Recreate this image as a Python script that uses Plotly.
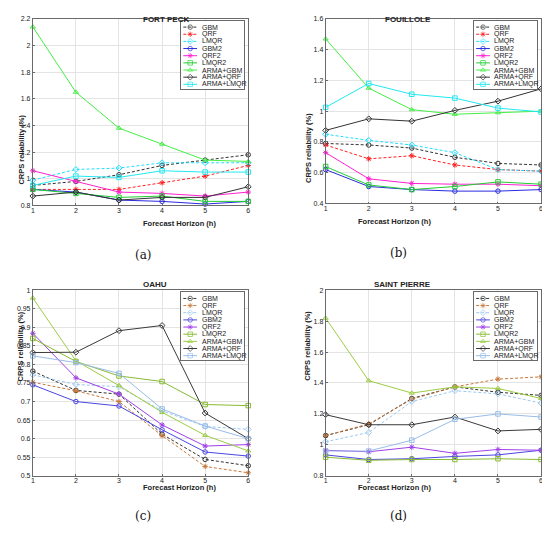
import plotly.graph_objects as go

# the page body adds an 8px margin, so the figure is a bit smaller and
# every reference pixel position is shifted by that offset
OFF = 8
W, H = 550 - OFF, 534 - OFF

hours = [1, 2, 3, 4, 5, 6]
x_tick_labels = ["1", "2", "3", "4", "5", "6"]
model_names = ["GBM", "QRF", "LMQR", "GBM2", "QRF2", "LMQR2",
               "ARMA+GBM", "ARMA+QRF", "ARMA+LMQR"]

# CRPS reliability (%) per model (rows follow model_names)
fort_peck = [
    [0.95, 0.98, 1.03, 1.10, 1.14, 1.18],
    [0.92, 0.92, 0.92, 0.97, 1.02, 1.10],
    [0.99, 1.07, 1.08, 1.12, 1.12, 1.12],
    [0.92, 0.90, 0.84, 0.83, 0.81, 0.83],
    [1.06, 0.98, 0.90, 0.89, 0.87, 0.90],
    [0.92, 0.89, 0.86, 0.87, 0.83, 0.83],
    [2.14, 1.65, 1.38, 1.26, 1.14, 1.13],
    [0.87, 0.90, 0.84, 0.86, 0.86, 0.94],
    [0.95, 1.02, 1.01, 1.06, 1.05, 1.05],
]
fouillole = [
    [0.79, 0.78, 0.76, 0.70, 0.66, 0.65],
    [0.78, 0.69, 0.71, 0.65, 0.62, 0.61],
    [0.85, 0.81, 0.78, 0.73, 0.62, 0.61],
    [0.62, 0.51, 0.49, 0.48, 0.48, 0.49],
    [0.73, 0.56, 0.53, 0.525, 0.525, 0.515],
    [0.64, 0.52, 0.49, 0.51, 0.54, 0.525],
    [1.47, 1.15, 1.01, 0.98, 0.99, 1.00],
    [0.875, 0.95, 0.935, 1.005, 1.065, 1.145],
    [1.025, 1.18, 1.11, 1.085, 1.02, 0.995],
]
oahu = [
    [0.782, 0.73, 0.72, 0.612, 0.544, 0.527],
    [0.752, 0.729, 0.70, 0.608, 0.525, 0.508],
    [0.772, 0.746, 0.74, 0.675, 0.633, 0.625],
    [0.745, 0.70, 0.688, 0.624, 0.564, 0.553],
    [0.884, 0.764, 0.72, 0.637, 0.58, 0.584],
    [0.87, 0.808, 0.769, 0.754, 0.692, 0.689],
    [0.979, 0.81, 0.743, 0.671, 0.609, 0.567],
    [0.832, 0.833, 0.891, 0.905, 0.669, 0.60],
    [0.823, 0.805, 0.776, 0.68, 0.634, 0.60],
]
saint_pierre = [
    [1.06, 1.13, 1.30, 1.375, 1.34, 1.32],
    [1.06, 1.135, 1.295, 1.375, 1.425, 1.44],
    [1.02, 1.08, 1.28, 1.35, 1.33, 1.27],
    [0.935, 0.905, 0.91, 0.925, 0.935, 0.965],
    [0.965, 0.955, 0.985, 0.945, 0.97, 0.965],
    [0.92, 0.90, 0.905, 0.905, 0.91, 0.905],
    [1.82, 1.415, 1.335, 1.375, 1.365, 1.30],
    [1.195, 1.13, 1.13, 1.18, 1.09, 1.10],
    [0.96, 0.96, 1.03, 1.165, 1.20, 1.18],
]

yticks_a = [0.8, 1.0, 1.2, 1.4, 1.6, 1.8, 2.0, 2.2]
ylabels_a = ["0.8", "1", "1.2", "1.4", "1.6", "1.8", "2", "2.2"]
yticks_b = [0.4, 0.6, 0.8, 1.0, 1.2, 1.4, 1.6]
ylabels_b = ["0.4", "0.6", "0.8", "1", "1.2", "1.4", "1.6"]
yticks_c = [0.5, 0.55, 0.6, 0.65, 0.7, 0.75, 0.8, 0.85, 0.9, 0.95, 1.0]
ylabels_c = ["0.5", "0.55", "0.6", "0.65", "0.7", "0.75", "0.8", "0.85", "0.9", "0.95", "1"]
yticks_d = [0.8, 1.0, 1.2, 1.4, 1.6, 1.8, 2.0]
ylabels_d = ["0.8", "1", "1.2", "1.4", "1.6", "1.8", "2"]

# styles
dashes = ["3px,2px"] * 3 + ["solid"] * 6
symbols = ["circle-open", "asterisk-open", "diamond-open", "circle-open", "asterisk-open",
           "square-open", "triangle-up-open", "diamond-open", "square-open"]
colors_top = ["#333333", "#ff2020", "#22ddff", "#2a2ae0", "#ff20d0", "#22cc33",
              "#44ee44", "#333333", "#22e8f0"]
colors_bot = ["#333333", "#c8773a", "#9cc8ee", "#4b45e0", "#a040e8", "#88bb33",
              "#9ccc44", "#3a3a3a", "#98bce8"]

FONT = "Liberation Sans, Arial, sans-serif"
SERIF = "Palatino Linotype, DejaVu Serif, Liberation Serif, serif"


def px_x(p):
    return (p - OFF) / W


def px_y(p):
    return 1 - (p - OFF) / H


panels = [
    dict(title="FORT PECK", data=fort_peck, ticks=yticks_a, labels=ylabels_a,
         box=(31, 248, 15, 204), colors=colors_top, tag="(a)"),
    dict(title="FOUILLOLE", data=fouillole, ticks=yticks_b, labels=ylabels_b,
         box=(326, 543, 15, 202), colors=colors_top, tag="(b)"),
    dict(title="OAHU", data=oahu, ticks=yticks_c, labels=ylabels_c,
         box=(31, 248, 290, 478), colors=colors_bot, tag="(c)"),
    dict(title="SAINT PIERRE", data=saint_pierre, ticks=yticks_d, labels=ylabels_d,
         box=(326, 543, 290, 478), colors=colors_bot, tag="(d)"),
]

fig = go.Figure()
layout = {}
annotations = []
tick_font = dict(family=FONT, size=7, color="#222222")

for i, p in enumerate(panels):
    n = i + 1
    x0, x1, y0, y1 = p["box"]
    xa, ya = f"xaxis{n}", f"yaxis{n}"
    layout[xa] = dict(domain=[px_x(x0), px_x(x1)], anchor=f"y{n}", range=[1, 6],
                      tickvals=hours, ticktext=x_tick_labels, showgrid=True,
                      gridcolor="#e4e4e4", gridwidth=0.6, showline=True, mirror=True,
                      linecolor="#6a6a6a", linewidth=0.8, ticks="inside", ticklen=2,
                      tickcolor="#6a6a6a", zeroline=False, tickfont=tick_font,
                      ticklabelstandoff=-2)
    layout[ya] = dict(domain=[px_y(y1), px_y(y0)], anchor=f"x{n}",
                      range=[p["ticks"][0], p["ticks"][-1]],
                      tickvals=p["ticks"], ticktext=p["labels"], showgrid=True,
                      gridcolor="#e4e4e4", gridwidth=0.6, showline=True, mirror=True,
                      linecolor="#6a6a6a", linewidth=0.8, ticks="inside", ticklen=2,
                      tickcolor="#6a6a6a", zeroline=False, tickfont=tick_font)

    for k, name in enumerate(model_names):
        fig.add_trace(go.Scatter(
            x=hours, y=p["data"][k], mode="lines+markers", name=name,
            xaxis=f"x{n}", yaxis=f"y{n}", showlegend=False, cliponaxis=False,
            line=dict(color=p["colors"][k], width=1, dash=dashes[k]),
            marker=dict(symbol=symbols[k], size=4.5, color=p["colors"][k],
                        line=dict(width=1, color=p["colors"][k]))
        ))

    # hand-made MATLAB style legend box on its own small axes
    m = n + 4
    lx0, lx1 = x0 + 0.69 * (x1 - x0), x0 + 0.98 * (x1 - x0)
    ly0, ly1 = y0 + 2, y0 + 71
    box_style = dict(range=[0, 1], showline=True, mirror=True, linecolor="#6a6a6a",
                     linewidth=0.8, showgrid=False, zeroline=False,
                     showticklabels=False, ticks="", fixedrange=True)
    layout[f"xaxis{m}"] = dict(domain=[px_x(lx0), px_x(lx1)], anchor=f"y{m}", **box_style)
    layout[f"yaxis{m}"] = dict(domain=[px_y(ly1), px_y(ly0)], anchor=f"x{m}", **box_style)
    hgt = ly1 - ly0
    for k, name in enumerate(model_names):
        yk = 1 - (6.3 + 7.25 * k) / hgt
        fig.add_trace(go.Scatter(
            x=[0.03, 0.14, 0.25], y=[yk] * 3, mode="lines+markers",
            xaxis=f"x{m}", yaxis=f"y{m}", showlegend=False, hoverinfo="skip",
            cliponaxis=False,
            line=dict(color=p["colors"][k], width=1, dash=dashes[k]),
            marker=dict(symbol=symbols[k], size=[0, 4.5, 0], color=p["colors"][k],
                        line=dict(width=[0, 1, 0], color=p["colors"][k]))
        ))
        annotations.append(dict(x=0.29, y=yk, xref=f"x{m}", yref=f"y{m}", text=name,
                                showarrow=False, xanchor="left", yanchor="middle",
                                font=dict(family=FONT, size=7, color="#222222")))

    cx = (x0 + x1) / 2
    annotations.append(dict(x=px_x(cx), y=px_y(y0 - 6), xref="paper", yref="paper",
                            text=f"<b>{p['title']}</b>", showarrow=False,
                            font=dict(family=FONT, size=8, color="#222222")))
    annotations.append(dict(x=px_x(cx), y=px_y(y1 + 18), xref="paper", yref="paper",
                            text="<b>Forecast Horizon (h)</b>", showarrow=False,
                            font=dict(family=FONT, size=7.5, color="#222222")))
    annotations.append(dict(x=px_x(x0 - 18), y=px_y((y0 + y1) / 2), xref="paper",
                            yref="paper", text="<b>CRPS reliability (%)</b>",
                            showarrow=False, textangle=-90,
                            font=dict(family=FONT, size=7.5, color="#222222")))
    annotations.append(dict(x=px_x(x0 + 101 if n % 2 else x0 + 84), y=px_y(y1 + 50),
                            xref="paper", yref="paper", text=p["tag"], showarrow=False,
                            font=dict(family=SERIF, size=12, color="#111111")))

fig.update_layout(
    width=W, height=H,
    margin=dict(l=0, r=0, t=0, b=0),
    paper_bgcolor="white", plot_bgcolor="white",
    showlegend=False,
    annotations=annotations,
    **layout
)

fig.write_html("out.html")
